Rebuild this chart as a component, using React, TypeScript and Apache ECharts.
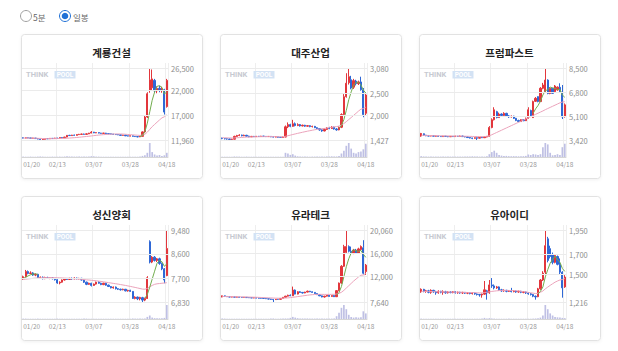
import React, { useEffect, useRef } from "react";
import * as echarts from "echarts";

const DATES = [
  "01/20","01/25","01/26","01/27","01/30","01/31","02/01","02/02","02/03","02/06",
  "02/07","02/08","02/09","02/10","02/13","02/14","02/15","02/16","02/17","02/20",
  "02/21","02/22","02/23","02/24","02/27","02/28","03/02","03/03","03/06","03/07",
  "03/08","03/09","03/10","03/13","03/14","03/15","03/16","03/17","03/20","03/21",
  "03/22","03/23","03/24","03/27","03/28","03/29","03/30","03/31","04/03","04/04",
  "04/05","04/06","04/07","04/10","04/11","04/12","04/13","04/14","04/17","04/18",
];
const X_TICKS = ["01/20", "02/13", "03/07", "03/28", "04/18"];
const NAMES = ["계룡건설", "대주산업", "프럼파스트", "성신양회", "유라테크", "유아이디"];
const RADIO_LABELS = ["5분", "일봉"];

const NA = (n: number) => Array(n).fill(null);

// [open, close, low, high]
const GR_OHLC = [
  [12400,12350,12300,12450],[12350,12400,12300,12450],[12400,12380,12320,12450],[12380,12300,12250,12420],[12300,12350,12250,12400],
  [12350,12250,12200,12380],[12250,12150,12100,12300],[12150,12050,12000,12200],[12050,12100,11960,12150],[12100,12250,12050,12300],
  [12250,12200,12150,12300],[12200,12300,12150,12350],[12300,12250,12200,12350],[12250,12350,12200,12400],[12350,12300,12250,12400],
  [12300,12450,12250,12500],[12450,12400,12350,12500],[12400,12550,12350,12600],[12550,12900,12500,12950],[12900,12850,12800,13000],
  [12850,12950,12800,13000],[12950,12900,12850,13050],[12900,13050,12850,13100],[13050,13100,13000,13200],[13100,13150,13050,13250],
  [13150,13100,13050,13250],[13100,13200,13050,13300],[13200,13350,13150,13400],[13350,13550,13300,13750],[13550,13400,13350,13600],
  [13400,13450,13350,13500],[13450,13350,13300,13500],[13350,13300,13250,13400],[13300,13350,13250,13400],[13350,13250,13200,13400],
  [13250,13200,13150,13300],[13200,13150,13100,13250],[13150,13100,13050,13200],[13100,13050,13000,13150],[13050,13000,12950,13100],
  [13000,12900,12850,13050],[12900,12950,12850,13000],[12950,12800,12750,13000],[12800,12750,12700,12850],[12750,12800,12700,12850],
  [12800,12700,12650,12850],[12700,12650,12600,12750],[12650,12600,12500,12700],[12600,12700,12550,12750],[12700,13600,12650,13700],
  [13600,16600,13500,16800],[16600,21300,16400,21600],[22000,24100,21500,26500],[22500,24300,22000,26200],[24000,21900,21500,24300],
  [21900,22400,21400,22800],[22400,22000,21600,22900],[22000,22300,21500,22700],[22100,17600,17100,22300],[18700,24000,18500,24300],
];
const GR_MA5 = [...NA(48), 12680,12850,13630,15360,17660,19980,21640,22800,22940,22580,21240,21660];
const GR_MA20 = [
  12350,12350,12350,12340,12330,12320,12300,12280,12260,12250,
  12240,12240,12240,12240,12250,12260,12270,12290,12320,12350,
  12390,12430,12470,12520,12570,12620,12670,12720,12780,12840,
  12900,12950,13000,13040,13080,13110,13140,13160,13170,13180,
  13170,13150,13120,13080,13040,13000,12960,12920,12890,12940,
  13120,13540,14100,14660,15100,15560,16000,16420,16650,17050,
];
const GR_VOL = [3,2,2,3,2,2,3,4,3,2, 2,2,3,2,2,3,2,3,6,4, 3,3,3,4,3,3,3,3,6,5, 3,3,2,2,2,2,2,2,2,2, 2,2,2,2,2,2,2,2,3,8, 12,30,100,35,18,10,14,8,12,30];
const GR_TICKS = [11960, 17000, 22000, 26500];

const DJ_OHLC = [
  [1470,1460,1445,1480],[1460,1455,1440,1470],[1455,1450,1435,1465],[1450,1440,1430,1460],[1440,1445,1427,1455],
  [1445,1510,1440,1525],[1510,1530,1500,1545],[1530,1540,1515,1560],[1540,1525,1510,1550],[1525,1535,1515,1550],
  [1535,1515,1505,1545],[1515,1500,1490,1525],[1500,1510,1495,1520],[1510,1505,1495,1520],[1505,1512,1498,1520],
  [1512,1508,1500,1520],[1508,1515,1500,1522],[1515,1510,1502,1522],[1510,1505,1495,1518],[1505,1510,1498,1518],
  [1510,1500,1492,1515],[1500,1495,1485,1508],[1495,1500,1488,1508],[1500,1490,1480,1505],[1490,1485,1475,1498],
  [1485,1495,1478,1505],[1495,1730,1490,1760],[1730,1780,1700,1830],[1780,1740,1720,1800],[1740,1800,1730,1890],
  [1800,1760,1740,1830],[1760,1780,1745,1810],[1780,1750,1735,1795],[1750,1765,1740,1780],[1765,1745,1730,1775],
  [1745,1755,1735,1770],[1755,1735,1720,1765],[1735,1740,1715,1755],[1740,1710,1700,1750],[1710,1690,1680,1720],
  [1690,1660,1640,1700],[1660,1635,1615,1675],[1635,1670,1625,1690],[1670,1700,1660,1720],[1700,1690,1675,1730],
  [1690,1720,1680,1745],[1720,1680,1665,1735],[1680,1660,1640,1700],[1660,1720,1650,1740],[1720,2010,1700,2040],
  [2010,2420,1990,2480],[2420,2730,2400,2960],[2740,2880,2700,3080],[2810,2620,2590,2900],[2640,2790,2600,2830],
  [2780,2720,2680,2810],[2720,2760,2690,2790],[2760,2580,2560,2880],[2580,2010,1950,2620],[2040,2460,2000,2500],
];
const DJ_MA5 = [...NA(48), 1694,1758,1898,2108,2352,2532,2688,2748,2754,2694,2572,2506];
const DJ_MA20 = [
  1480,1478,1476,1474,1472,1474,1478,1482,1486,1490,
  1493,1495,1497,1499,1500,1502,1503,1504,1505,1506,
  1505,1504,1503,1502,1500,1499,1511,1525,1538,1553,
  1566,1580,1592,1605,1617,1629,1640,1651,1662,1671,
  1679,1685,1693,1702,1711,1719,1728,1735,1746,1770,
  1805,1848,1897,1942,1993,2040,2090,2135,2150,2180,
];
const DJ_VOL = [2,2,2,2,2,4,3,3,2,2, 3,2,2,2,2,2,2,2,2,2, 2,2,2,2,2,2,30,25,15,20, 10,5,4,3,3,3,2,3,3,3, 3,4,3,4,4,5,4,4,8,25, 45,80,100,60,30,25,35,40,55,95];
const DJ_TICKS = [1427, 2000, 2500, 3080];

const PR_OHLC = [
  [3700,3880,3650,3920],[3860,3760,3720,3880],[3760,3720,3690,3780],[3720,3700,3680,3750],[3700,3730,3680,3760],
  [3730,3690,3670,3750],[3690,3700,3660,3730],[3700,3680,3650,3720],[3680,3660,3640,3700],[3660,3690,3640,3710],
  [3690,3670,3650,3710],[3670,3650,3620,3690],[3650,3680,3630,3700],[3680,3660,3640,3700],[3660,3690,3640,3720],
  [3690,3670,3650,3710],[3670,3700,3650,3730],[3700,3660,3640,3720],[3660,3640,3610,3680],[3640,3590,3570,3660],
  [3590,3560,3530,3610],[3560,3540,3480,3580],[3540,3580,3520,3600],[3580,3550,3420,3600],[3550,3600,3530,3620],
  [3600,3580,3560,3630],[3580,3630,3560,3650],[3630,3680,3610,3700],[3680,4300,3660,4400],[4300,4850,4250,4950],
  [4850,5550,4800,5730],[5420,5000,4950,5480],[5000,5250,4980,5350],[5250,5150,5080,5300],[5150,5300,5100,5380],
  [5300,5120,5050,5340],[5120,5050,4980,5180],[5050,5100,5000,5150],[5100,4950,4900,5130],[4950,4800,4750,4980],
  [4800,4720,4680,4850],[4720,4850,4700,4880],[4850,4780,4750,4900],[4780,4950,4760,5000],[4950,5550,4930,5730],
  [5500,5100,5050,5560],[5000,6130,4980,6200],[6150,6360,6100,6450],[6480,6130,6080,6500],[6130,7070,6100,7150],
  [7070,7300,7000,7450],[6830,7650,6800,8500],[7650,6700,6650,7700],[6700,7070,6650,7150],[7070,6710,6680,7100],
  [6830,7230,6800,7300],[6950,7150,6900,7200],[7140,6830,6800,7420],[6800,5050,4900,7300],[5070,5900,5000,6000],
];
const PR_MA5 = [...NA(46), 5302,5618,5854,6158,6598,6902,6970,7158,7086,7072,6972,6998,6594,6432];
const PR_MA20 = [
  3760,3750,3745,3740,3735,3730,3725,3720,3715,3712,
  3710,3705,3700,3698,3695,3692,3690,3688,3685,3682,
  3678,3672,3668,3664,3660,3658,3660,3680,3720,3790,
  3870,3950,4030,4110,4190,4270,4350,4430,4510,4590,
  4670,4750,4830,4910,4990,5070,5150,5230,5310,5390,
  5470,5560,5640,5720,5800,5880,5960,6040,6100,6120,
];
const PR_VOL = [6,4,3,3,3,3,3,3,3,3, 3,3,3,3,3,3,3,3,3,4, 4,5,4,4,3,3,3,5,20,35, 45,30,15,10,8,8,6,6,6,6, 5,6,6,8,18,14,20,18,15,20, 70,100,90,30,12,15,20,14,70,95];
const PR_TICKS = [3420, 5100, 6800, 8500];

const SS_OHLC = [
  [7680,7760,7650,7800],[7760,7950,7740,8010],[7950,7880,7850,7990],[7880,7900,7850,7960],[7900,7820,7790,7930],
  [7820,7850,7780,7880],[7850,7700,7680,7870],[7700,7740,7680,7770],[7740,7690,7660,7770],[7690,7730,7670,7760],
  [7730,7700,7680,7760],[7700,7720,7670,7750],[7720,7690,7660,7750],[7690,7650,7620,7710],[7650,7530,7500,7670],
  [7530,7560,7480,7590],[7560,7640,7540,7660],[7640,7680,7620,7700],[7680,7660,7640,7710],[7660,7700,7640,7720],
  [7700,7680,7650,7730],[7680,7710,7660,7740],[7710,7690,7660,7730],[7690,7700,7660,7720],[7700,7640,7620,7720],
  [7640,7560,7530,7660],[7560,7480,7450,7580],[7480,7520,7460,7540],[7520,7440,7400,7540],[7440,7490,7420,7510],
  [7490,7560,7470,7580],[7560,7520,7500,7590],[7520,7470,7450,7540],[7470,7520,7450,7540],[7520,7450,7430,7540],
  [7450,7400,7380,7470],[7400,7350,7330,7420],[7350,7380,7320,7400],[7380,7320,7290,7400],[7320,7300,7270,7340],
  [7300,7280,7250,7320],[7280,7300,7260,7320],[7300,7240,7220,7310],[7240,7260,7210,7280],[7260,7220,7200,7280],
  [7220,6960,6940,7230],[6960,7010,6930,7040],[7010,6950,6900,7030],[6950,7000,6890,7020],[6990,6900,6830,7020],
  [6900,6960,6860,6990],[6960,7720,6940,7780],[9050,8300,8250,9100],[8300,8480,8260,8520],[8480,8360,8320,8520],
  [8360,8420,8300,8450],[8420,8250,8200,8460],[8250,8050,8000,8280],[8050,7640,7520,8080],[7800,8800,7780,9480],
];
const SS_MA5 = [7700,7740,7790,7830,7860,7870,7840, ...NA(43), 6964,7106,7376,7672,7964,8256,8362,8312,8144,8232];
const SS_MA20 = [
  7660,7670,7680,7690,7700,7710,7715,7720,7722,7724,
  7726,7728,7728,7726,7722,7718,7714,7710,7706,7700,
  7694,7686,7678,7670,7662,7654,7646,7638,7630,7620,
  7610,7598,7586,7572,7558,7544,7530,7516,7502,7488,
  7472,7456,7440,7422,7404,7386,7366,7346,7326,7306,
  7300,7330,7390,7440,7480,7500,7510,7520,7530,7540,
];
const SS_VOL = [3,3,2,2,2,2,3,2,2,2, 2,2,2,2,3,2,2,2,2,2, 2,2,2,2,2,3,3,2,2,2, 2,2,2,2,2,2,2,2,2,2, 2,2,2,2,2,4,3,3,3,3, 4,15,25,10,6,5,5,6,8,100];
const SS_TICKS = [6830, 7700, 8600, 9480];

const YR_OHLC = [
  [8500,8700,8450,8750],[8700,8600,8550,8750],[8600,8550,8500,8650],[8550,8500,8450,8600],[8500,8520,8450,8580],
  [8520,8480,8430,8560],[8480,8500,8440,8550],[8500,8450,8400,8530],[8450,8430,8380,8500],[8430,8450,8390,8490],
  [8450,8400,8360,8480],[8400,8380,8340,8430],[8380,8350,8310,8410],[8350,8360,8300,8400],[8360,8320,8280,8390],
  [8320,8300,8260,8350],[8300,8280,8240,8330],[8280,8250,8200,8310],[8250,8200,8150,8280],[8200,8150,8100,8230],
  [8150,8100,8000,8180],[8100,8050,7640,8130],[8050,8120,8000,8160],[8120,8100,8050,8160],[8100,8250,8080,8300],
  [8250,8450,8230,8500],[8450,8650,8420,8700],[8650,8800,8600,8900],[8800,8700,8650,8950],[8700,9700,8680,10300],
  [9700,9000,8950,9800],[9000,9400,8950,9500],[9400,9300,9200,9500],[9300,9200,9100,9350],[9200,9350,9150,9400],
  [9350,9500,9300,9600],[9500,9400,9350,9550],[9400,9300,9250,9450],[9300,9100,9050,9350],[9100,8900,8850,9150],
  [8900,8700,8650,8950],[8700,8500,8450,8750],[8500,8650,8400,8700],[8650,8800,8600,8850],[8800,8600,8550,8850],
  [8600,8750,8550,8800],[8750,8550,8500,8800],[8550,9600,8500,9700],[9600,10900,9500,11000],[10900,13800,10800,14000],
  [13800,17200,13700,17500],[16200,17200,16000,20060],[17200,16400,16200,17400],[16400,16000,15900,17200],[16000,16600,15900,16800],
  [16600,16100,16000,16800],[16100,16800,16000,17000],[16700,17200,16500,17400],[17000,12600,12400,18300],[12900,14000,12300,14200],
];
const YR_MA5 = [...NA(47), 8860,9280,10320,12010,13740,15100,16120,16680,16460,16380,16540,15860,15340];
const YR_MA20 = [
  8600,8590,8580,8570,8560,8550,8540,8530,8520,8510,
  8500,8490,8480,8470,8460,8440,8420,8400,8380,8360,
  8340,8320,8300,8290,8290,8300,8320,8350,8390,8450,
  8510,8570,8630,8690,8750,8810,8860,8900,8930,8950,
  8960,8960,8950,8950,8950,8960,8970,9020,9120,9320,
  9650,10050,10450,10850,11250,11600,11950,12250,12300,12550,
];
const YR_VOL = [4,3,2,2,2,2,2,2,2,2, 2,2,2,2,2,2,2,2,2,2, 3,4,2,2,3,4,4,4,8,15, 10,6,4,4,4,4,3,3,3,3, 3,3,3,3,3,3,4,20,45,80, 100,70,30,14,10,12,10,12,55,40];
const YR_TICKS = [7640, 12000, 16000, 20060];

const UI_OHLC = [
  [1320,1345,1310,1355],[1345,1325,1315,1350],[1325,1330,1310,1340],[1330,1315,1305,1340],[1315,1335,1300,1345],
  [1335,1320,1310,1340],[1320,1310,1290,1330],[1310,1325,1300,1335],[1325,1315,1305,1330],[1315,1320,1290,1335],
  [1320,1310,1300,1330],[1310,1318,1302,1325],[1318,1312,1305,1325],[1312,1320,1305,1328],[1320,1310,1302,1326],
  [1310,1316,1300,1322],[1316,1308,1300,1320],[1308,1314,1298,1320],[1314,1306,1298,1318],[1306,1312,1296,1318],
  [1312,1302,1294,1316],[1302,1308,1292,1314],[1308,1298,1290,1312],[1298,1292,1282,1304],[1292,1288,1270,1298],
  [1288,1296,1260,1302],[1296,1340,1290,1430],[1330,1310,1240,1340],[1310,1390,1300,1440],[1390,1380,1360,1460],
  [1380,1360,1345,1395],[1360,1370,1350,1380],[1370,1340,1330,1375],[1340,1330,1320,1350],[1330,1335,1320,1345],
  [1335,1325,1315,1340],[1325,1330,1318,1338],[1330,1322,1314,1360],[1322,1328,1315,1336],[1328,1318,1310,1334],
  [1318,1325,1310,1332],[1325,1315,1306,1330],[1315,1318,1305,1326],[1318,1308,1298,1322],[1308,1300,1290,1315],
  [1300,1292,1282,1308],[1292,1275,1265,1298],[1275,1268,1240,1282],[1270,1350,1265,1360],[1350,1440,1340,1450],
  [1440,1510,1430,1530],[1520,1790,1500,1950],[1860,1640,1620,1880],[1760,1680,1660,1790],[1700,1620,1600,1720],
  [1620,1690,1610,1700],[1680,1600,1590,1690],[1600,1520,1500,1660],[1520,1360,1260,1530],[1370,1470,1360,1490],
];
const UI_MA5 = [...NA(48), 1297,1325,1369,1472,1546,1612,1648,1684,1646,1622,1558,1528];
const UI_MA20 = [
  1325,1325,1324,1324,1323,1322,1321,1320,1320,1319,
  1318,1318,1317,1317,1316,1316,1315,1315,1314,1313,
  1312,1312,1311,1310,1309,1308,1312,1316,1320,1324,
  1327,1330,1332,1333,1334,1334,1334,1333,1332,1330,
  1328,1325,1322,1318,1314,1310,1306,1302,1305,1315,
  1328,1350,1368,1386,1402,1418,1430,1440,1445,1455,
];
const UI_VOL = [3,2,2,2,2,2,2,2,2,2, 2,2,2,2,2,2,2,2,2,2, 2,2,2,2,2,3,8,4,6,4, 3,2,2,2,2,2,3,2,2,2, 2,2,2,2,2,2,3,4,5,10, 25,100,70,40,25,15,12,10,8,6];
const UI_TICKS = [1216, 1500, 1700, 1950];

const STOCKS = [
  { name: NAMES[0], ohlc: GR_OHLC, ma5: GR_MA5, ma20: GR_MA20, vol: GR_VOL, ticks: GR_TICKS },
  { name: NAMES[1], ohlc: DJ_OHLC, ma5: DJ_MA5, ma20: DJ_MA20, vol: DJ_VOL, ticks: DJ_TICKS },
  { name: NAMES[2], ohlc: PR_OHLC, ma5: PR_MA5, ma20: PR_MA20, vol: PR_VOL, ticks: PR_TICKS },
  { name: NAMES[3], ohlc: SS_OHLC, ma5: SS_MA5, ma20: SS_MA20, vol: SS_VOL, ticks: SS_TICKS },
  { name: NAMES[4], ohlc: YR_OHLC, ma5: YR_MA5, ma20: YR_MA20, vol: YR_VOL, ticks: YR_TICKS },
  { name: NAMES[5], ohlc: UI_OHLC, ma5: UI_MA5, ma20: UI_MA20, vol: UI_VOL, ticks: UI_TICKS },
];

const FONT = '"Noto Sans CJK KR", "Noto Sans", sans-serif';
const RED = "#e2363c";
const BLUE = "#2f68d6";
const PINK = "#eba3bb";
const GREEN = "#72ad4f";
const VOLC = "#bfc0e4";
const CARD_X = [21, 220, 419];
const CARD_Y = [34, 196];
const CARD_W = 181;
const CARD_H = 144;
const PLOT_W = 146;

const fmt = (v: number) => Number(v).toLocaleString("en-US");

function buildOption() {
  const grid: any[] = [];
  const xAxis: any[] = [];
  const yAxis: any[] = [];
  const series: any[] = [];
  const graphic: any[] = [];

  graphic.push(
    { type: "circle", shape: { cx: 26, cy: 16, r: 5.5 }, style: { fill: "#fff", stroke: "#a0a0a0", lineWidth: 1 } },
    { type: "text", x: 33, y: 16.5, style: { text: RADIO_LABELS[0], fontSize: 8.5, fill: "#666", verticalAlign: "middle", fontFamily: FONT } },
    { type: "circle", shape: { cx: 65, cy: 16, r: 5.5 }, style: { fill: "#fff", stroke: "#1f70d6", lineWidth: 1 } },
    { type: "circle", shape: { cx: 65, cy: 16, r: 3.3 }, style: { fill: "#1f70d6" } },
    { type: "text", x: 73, y: 16.5, style: { text: RADIO_LABELS[1], fontSize: 8.5, fill: "#666", verticalAlign: "middle", fontFamily: FONT } }
  );

  STOCKS.forEach((s, k) => {
    const cx = CARD_X[k % 3];
    const cy = CARD_Y[Math.floor(k / 3)];
    const gf = k * 3, gp = k * 3 + 1, gv = k * 3 + 2;

    graphic.push(
      { type: "rect", z: -10, shape: { x: cx + 0.5, y: cy + 0.5, width: CARD_W, height: CARD_H, r: 3 }, style: { fill: "#fff", stroke: "#e2e2e2", lineWidth: 1, shadowBlur: 3, shadowColor: "rgba(0,0,0,0.06)", shadowOffsetY: 1 } },
      { type: "text", z: 5, x: cx + 90.5, y: cy + 18.5, style: { text: s.name, fontSize: 10.5, fontWeight: "bold", fill: "#222", align: "center", verticalAlign: "middle", fontFamily: FONT } },
      { type: "text", z: 1, x: cx + 5, y: cy + 40.5, style: { text: "THINK", fontSize: 7.5, fontWeight: "bold", fill: "#c7cad1", verticalAlign: "middle", fontFamily: "Roboto, sans-serif" } },
      { type: "rect", z: 1, shape: { x: cx + 33.5, y: cy + 37, width: 21, height: 7.5 }, style: { fill: "#d3e2f4" } },
      { type: "text", z: 1, x: cx + 44, y: cy + 40.8, style: { text: "POOL", fontSize: 6.5, fontWeight: "bold", fill: "#ffffff", align: "center", verticalAlign: "middle", fontFamily: "Roboto, sans-serif" } }
    );

    grid.push({ left: cx + 1, top: cy + 29, width: PLOT_W, height: 94 });
    grid.push({ left: cx + 1, top: cy + 34, width: PLOT_W, height: 72 });
    grid.push({ left: cx + 1, top: cy + 109, width: PLOT_W, height: 14 });

    xAxis.push({
      type: "category", gridIndex: gf, data: DATES, boundaryGap: true,
      axisLine: { show: true, lineStyle: { color: "#d6d6d6", width: 1 } },
      axisTick: { show: false },
      axisLabel: {
        interval: (_i: number, v: string) => X_TICKS.includes(v),
        color: "#9a9a9a", fontSize: 6.5, margin: 4, fontFamily: FONT, alignMinLabel: "left",
      },
      splitLine: {
        show: true,
        interval: (_i: number, v: string) => X_TICKS.includes(v) && v !== X_TICKS[0],
        lineStyle: { color: "#eeeeee", width: 1 },
      },
    });
    xAxis.push({ type: "category", gridIndex: gp, data: DATES, boundaryGap: true, show: false });
    xAxis.push({ type: "category", gridIndex: gv, data: DATES, boundaryGap: true, show: false });

    yAxis.push({ type: "value", gridIndex: gf, min: 0, max: 1, show: false, splitLine: { show: false } });
    yAxis.push({ type: "value", gridIndex: gp, min: s.ticks[0], max: s.ticks[s.ticks.length - 1], show: false, splitLine: { show: false } });
    yAxis.push({ type: "value", gridIndex: gv, min: 0, max: "dataMax", show: false, splitLine: { show: false } });

    series.push({
      type: "line", xAxisIndex: gp, yAxisIndex: gp, data: [], z: 1, silent: true,
      markLine: {
        silent: true, symbol: "none", animation: false,
        lineStyle: { color: "#ebebeb", width: 1, type: "solid" },
        label: {
          show: true, position: "end", distance: 3, color: "#8e8e8e", fontSize: 7.5, fontFamily: FONT,
          padding: [5, 0, 0, 0],
          formatter: (p: any) => fmt(p.value),
        },
        data: s.ticks.map((v) => ({ yAxis: v })),
      },
    });
    series.push({
      type: "candlestick", xAxisIndex: gp, yAxisIndex: gp, data: s.ohlc, barWidth: "72%", z: 3,
      itemStyle: { color: RED, color0: BLUE, borderColor: RED, borderColor0: BLUE, borderWidth: 1 },
    });
    series.push({
      type: "line", xAxisIndex: gp, yAxisIndex: gp, data: s.ma20, symbol: "none", showSymbol: false, z: 4,
      lineStyle: { color: PINK, width: 1 }, silent: true,
    });
    series.push({
      type: "line", xAxisIndex: gp, yAxisIndex: gp, data: s.ma5, symbol: "none", showSymbol: false, z: 4,
      lineStyle: { color: GREEN, width: 1 }, silent: true,
    });
    series.push({
      type: "bar", xAxisIndex: gv, yAxisIndex: gv, data: s.vol, barWidth: "70%", z: 3,
      itemStyle: { color: VOLC }, silent: true,
    });
  });

  return {
    animation: false,
    backgroundColor: "#ffffff",
    textStyle: { fontFamily: FONT },
    grid, xAxis, yAxis, series, graphic,
  };
}

export default function App() {
  const ref = useRef<HTMLDivElement>(null);
  useEffect(() => {
    if (!ref.current) return;
    const chart = echarts.init(ref.current, undefined, { renderer: "svg" });
    chart.setOption(buildOption() as any);
    return () => chart.dispose();
  }, []);
  return (
    <div
      ref={ref}
      style={{ position: "fixed", left: 0, top: 0, width: 618, height: 351, background: "#fff" }}
    />
  );
}
